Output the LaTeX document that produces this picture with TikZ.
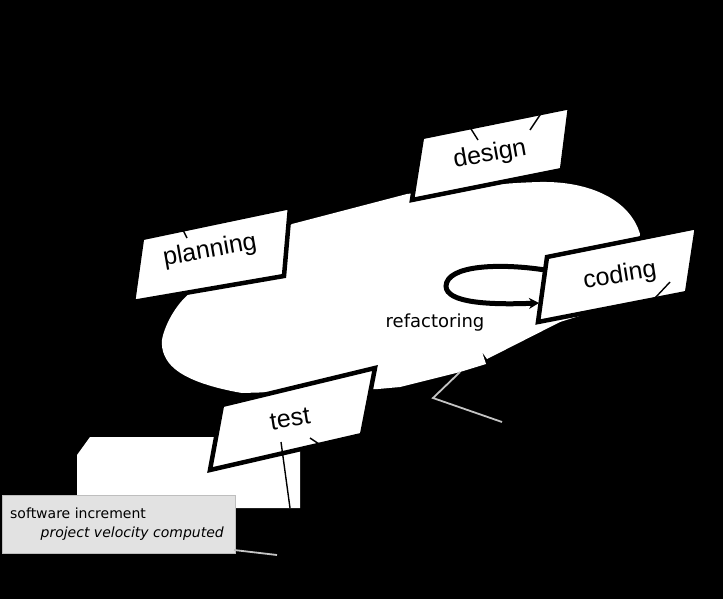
\documentclass[tikz,border=0pt]{standalone}
\usepackage{fontspec}
\setmainfont{Liberation Sans}
\newfontfamily\notefont{DejaVu Sans}
\usepackage{tikz}
\usetikzlibrary{arrows.meta, positioning}
\definecolor{notegrey}{RGB}{226, 226, 226}
\definecolor{notedraw}{RGB}{190, 190, 190}
\definecolor{hairgrey}{RGB}{196, 196, 196}

\begin{document}
\begin{tikzpicture}[x=1pt, y=-1pt,
    phase/.style={draw=black, line width=4.5pt, fill=white, line join=miter},
    phaselabel/.style={font=\fontsize{25}{25}\selectfont, rotate=10, inner sep=0pt},
    leader/.style={draw=black, line width=1.4pt},
    hairline/.style={draw=hairgrey, line width=1.8pt},
    loopline/.style={draw=black, line width=5pt, -{Stealth[length=10pt, width=11pt]}}
]
    \useasboundingbox (0,0) rectangle (723,599);
    \fill[black] (0,0) rectangle (723,599);

    % the cycle
    \fill[white] (190,293) -- (292,224) -- (407,194)
        .. controls (460,188) and (500,183) .. (540,182)
        .. controls (590,181) and (630,200) .. (640,234)
        -- (630,300) -- (560,322) -- (487,359) -- (482,352) -- (486,364)
        -- (460,372) -- (400,387) -- (378,389) -- (242,393)
        .. controls (213,388) and (188,380) .. (175,369)
        .. controls (165,361) and (161,350) .. (162,340)
        .. controls (164,327) and (175,305) .. (190,293) -- cycle;

    % increment
    \fill[white] (90,437) -- (300,437) -- (300,508) -- (77,508) -- (77,455) -- cycle;
    \node[draw=notedraw, fill=notegrey, line width=1pt, minimum width=233pt,
          minimum height=58pt, inner sep=0pt] (incbox) at (118.5,524) {};
    \node[anchor=base west, inner sep=0pt, font=\notefont\fontsize{14}{14}\selectfont]
        (incr) at (10,518) {software increment};
    \node[anchor=base east, inner sep=0pt, font=\notefont\itshape\fontsize{14}{14}\selectfont]
        (velo) at (224,537) {project velocity computed};

    % phases
    \coordinate (pla-nw) at (142,238); \coordinate (pla-ne) at (290,207);
    \coordinate (pla-se) at (284,276); \coordinate (pla-sw) at (133,302);
    \coordinate (des-nw) at (422,137); \coordinate (des-ne) at (570,107);
    \coordinate (des-se) at (562,170); \coordinate (des-sw) at (412,200);
    \coordinate (cod-nw) at (547,257); \coordinate (cod-ne) at (697,227);
    \coordinate (cod-se) at (687,293); \coordinate (cod-sw) at (538,322);
    \coordinate (tes-nw) at (222,405); \coordinate (tes-ne) at (375,368);
    \coordinate (tes-se) at (362,435); \coordinate (tes-sw) at (210,470);

    \draw[phase] (pla-nw) -- (pla-ne) -- (pla-se) -- (pla-sw) -- cycle;
    \draw[phase] (des-nw) -- (des-ne) -- (des-se) -- (des-sw) -- cycle;
    \draw[phase] (cod-nw) -- (cod-ne) -- (cod-se) -- (cod-sw) -- cycle;
    \draw[phase] (tes-nw) -- (tes-ne) -- (tes-se) -- (tes-sw) -- cycle;

    \node[phaselabel] (planning) at (210,251) {planning};
    \node[phaselabel] (design) at (490,155) {design};
    \node[phaselabel, rotate=-1] (coding) at (620,276) {coding};
    \node[phaselabel, rotate=-1] (test) at (290,419) {test};

    % refactoring loop
    \coordinate (loop-out) at (545,270);
    \coordinate (loop-in) at (539,303);
    \draw[loopline] (loop-out) .. controls (500,263) and (447,265) .. (446,286)
        .. controls (446,303) and (490,305) .. (loop-in);
    \node[anchor=base, inner sep=0pt, font=\notefont\fontsize{18}{18}\selectfont]
        (refac) at (435,327) {refactoring};

    % leaders
    \coordinate (pla-l1) at (176,216); \coordinate (pla-l2) at (187,238);
    \coordinate (des-l1) at (466,121); \coordinate (des-l2) at (478,140);
    \coordinate (des-l3) at (546,106); \coordinate (des-l4) at (530,130);
    \coordinate (cod-l1) at (670,282); \coordinate (cod-l2) at (655,298);
    \coordinate (tes-l1) at (281,442); \coordinate (tes-l2) at (290,508);
    \coordinate (tes-l3) at (310,438); \coordinate (tes-l4) at (322,446);
    \draw[leader] (pla-l1) -- (pla-l2);
    \draw[leader] (des-l1) -- (des-l2);
    \draw[leader] (des-l3) -- (des-l4);
    \draw[leader] (cod-l1) -- (cod-l2);
    \draw[leader] (tes-l1) -- (tes-l2);
    \draw[leader] (tes-l3) -- (tes-l4);

    \coordinate (tip-a) at (460,372); \coordinate (tip-b) at (433,398);
    \coordinate (tip-c) at (502,422);
    \draw[hairline] (tip-a) -- (tip-b) -- (tip-c);
    \coordinate (inc-a) at (234,550); \coordinate (inc-b) at (277,555);
    \draw[hairline] (inc-a) -- (inc-b);
\end{tikzpicture}
\end{document}
